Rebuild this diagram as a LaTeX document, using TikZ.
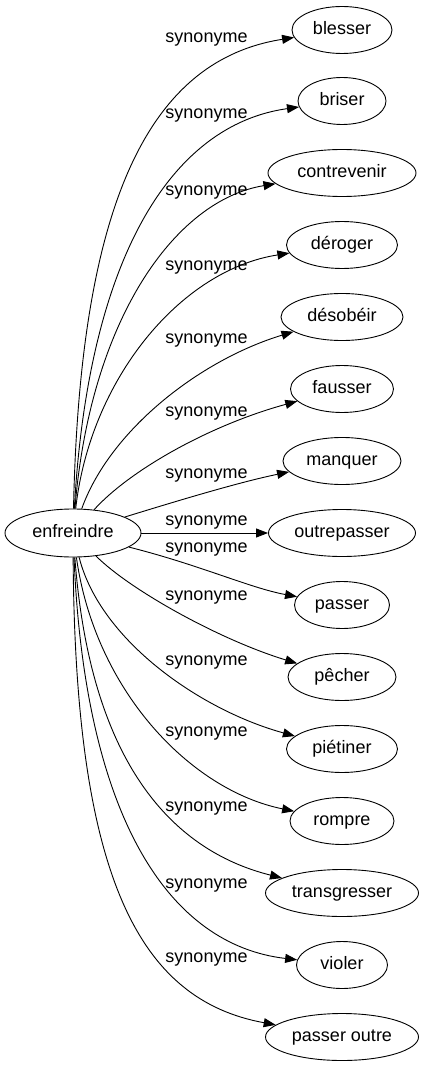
\documentclass[tikz,border=0pt]{standalone}
\usepackage{fontspec}
\setmainfont{Liberation Sans}
\usetikzlibrary{shapes.geometric,arrows.meta}
\begin{document}
\begin{tikzpicture}[x=1pt,y=-1pt,
  word/.style={ellipse,draw,line width=0.9pt,inner sep=0pt,minimum height=47pt,
    text height=13pt,text depth=4pt,font=\fontsize{18}{20}\selectfont},
  lbl/.style={inner sep=0pt,font=\fontsize{18}{20}\selectfont},
  rel/.style={line width=0.9pt,-{Triangle[length=12pt,width=9pt]}}]
\useasboundingbox (0,0) rectangle (424,1067);
\node[word,minimum width=136pt,minimum height=48pt] (enf) at (73,533) {enfreindre};
\node[word,minimum width=100pt] (t1) at (342,30) {blesser};
\node[word,minimum width=88pt] (t2) at (342,101) {briser};
\node[word,minimum width=148pt] (t3) at (342,173) {contrevenir};
\node[word,minimum width=111pt] (t4) at (342,245) {déroger};
\node[word,minimum width=122pt] (t5) at (342,317) {désobéir};
\node[word,minimum width=103pt] (t6) at (342,389) {fausser};
\node[word,minimum width=118pt] (t7) at (342,461) {manquer};
\node[word,minimum width=147pt] (t8) at (342,533) {outrepasser};
\node[word,minimum width=95pt] (t9) at (342,605) {passer};
\node[word,minimum width=108pt] (t10) at (342,677) {pêcher};
\node[word,minimum width=111pt] (t11) at (342,749) {piétiner};
\node[word,minimum width=104pt] (t12) at (342,821) {rompre};
\node[word,minimum width=153pt] (t13) at (342,893) {transgresser};
\node[word,minimum width=91pt] (t14) at (342,965) {violer};
\node[word,minimum width=153pt] (t15) at (342,1037) {passer outre};
\node[lbl] (l1) at (206.5,40) {synonyme};
\node[lbl] (l2) at (206.5,116) {synonyme};
\node[lbl] (l3) at (206.5,192.5) {synonyme};
\node[lbl] (l4) at (206.5,267.5) {synonyme};
\node[lbl] (l5) at (206.5,340.5) {synonyme};
\node[lbl] (l6) at (206.5,414) {synonyme};
\node[lbl] (l7) at (206.5,476) {synonyme};
\node[lbl] (l8) at (206.5,523) {synonyme};
\node[lbl] (l9) at (206.5,550) {synonyme};
\node[lbl] (l10) at (206.5,598) {synonyme};
\node[lbl] (l11) at (206.5,662.5) {synonyme};
\node[lbl] (l12) at (206.5,734) {synonyme};
\node[lbl] (l13) at (206.5,809) {synonyme};
\node[lbl] (l14) at (206.5,886) {synonyme};
\node[lbl] (l15) at (206.5,960) {synonyme};
\draw[rel] (enf) .. controls (80,200) and (150,60) .. (t1);
\draw[rel] (enf) .. controls (88,260) and (170,125) .. (t2);
\draw[rel] (enf) .. controls (90,320) and (175,200) .. (t3);
\draw[rel] (enf) .. controls (90,380) and (180,270) .. (t4);
\draw[rel] (enf) .. controls (110,430) and (200,360) .. (t5);
\draw[rel] (enf) .. controls (130,470) and (210,425) .. (t6);
\draw[rel] (enf) .. controls (180,500) and (240,482) .. (t7);
\draw[rel] (enf) -- (t8);
\draw[rel] (enf) .. controls (200,565) and (250,588) .. (t9);
\draw[rel] (enf) .. controls (130,590) and (220,640) .. (t10);
\draw[rel] (enf) .. controls (100,640) and (200,710) .. (t11);
\draw[rel] (enf) .. controls (95,690) and (190,790) .. (t12);
\draw[rel] (enf) .. controls (90,760) and (170,850) .. (t13);
\draw[rel] (enf) .. controls (85,820) and (170,945) .. (t14);
\draw[rel] (enf) .. controls (75,880) and (140,1000) .. (t15);
\end{tikzpicture}
\end{document}
